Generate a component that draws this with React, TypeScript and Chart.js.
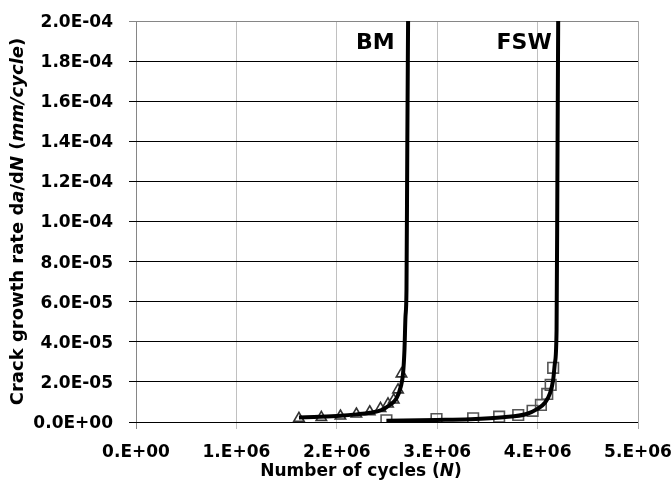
import React, { useEffect, useRef } from "react";
import { Chart, registerables } from "chart.js";
Chart.register(...registerables);

const FONT = '"DejaVu Sans", sans-serif';

// Measured markers
const bmPointsN = [1.623e6, 1.846e6, 2.036e6, 2.195e6, 2.328e6, 2.435e6, 2.51e6, 2.567e6, 2.61e6, 2.644e6];
const bmPointsRate = [1.85e-6, 2.3e-6, 3.0e-6, 4.0e-6, 5.1e-6, 6.8e-6, 9.0e-6, 1.1e-5, 1.6e-5, 2.4e-5];
const fswPointsN = [2.494e6, 2.993e6, 3.358e6, 3.617e6, 3.807e6, 3.95e6, 4.033e6, 4.096e6, 4.13e6, 4.155e6];
const fswPointsRate = [0.85e-6, 1.5e-6, 1.85e-6, 2.65e-6, 3.5e-6, 5.6e-6, 8.5e-6, 1.4e-5, 1.85e-5, 2.7e-5];

// Fitted curves
const bmCurveN = [1.623e6, 1.83e6, 2.036e6, 2.195e6, 2.328e6, 2.445e6, 2.527e6, 2.594e6, 2.637e6, 2.66e6, 2.674e6, 2.684e6, 2.694e6, 2.702e6, 2.71e6];
const bmCurveRate = [2.3e-6, 2.6e-6, 3.1e-6, 3.8e-6, 4.6e-6, 6.0e-6, 8.5e-6, 1.18e-5, 1.76e-5, 2.43e-5, 3.6e-5, 5.25e-5, 6.58e-5, 1.357e-4, 2.0e-4];
const fswCurveN = [2.494e6, 2.993e6, 3.325e6, 3.657e6, 3.89e6, 3.99e6, 4.073e6, 4.123e6, 4.155e6, 4.172e6, 4.189e6, 4.197e6, 4.205e6];
const fswCurveRate = [0.65e-6, 1.0e-6, 1.35e-6, 2.35e-6, 4.0e-6, 6.3e-6, 9.6e-6, 1.43e-5, 2.1e-5, 2.93e-5, 4.6e-5, 1.2e-4, 2.0e-4];

const xTickValues = [0, 1e6, 2e6, 3e6, 4e6, 5e6];
const xTickLabels = ["0.E+00", "1.E+06", "2.E+06", "3.E+06", "4.E+06", "5.E+06"];
const yTickValues = [0, 2e-5, 4e-5, 6e-5, 8e-5, 1e-4, 1.2e-4, 1.4e-4, 1.6e-4, 1.8e-4, 2e-4];
const yTickLabels = ["0.0E+00", "2.0E-05", "4.0E-05", "6.0E-05", "8.0E-05", "1.0E-04", "1.2E-04", "1.4E-04", "1.6E-04", "1.8E-04", "2.0E-04"];

const seriesLabels = ["BM", "FSW"];
const seriesLabelN = [2.577e6, 4.14e6];
const seriesLabelRate = [1.89e-4, 1.89e-4];

type Seg = { t: string; i: boolean };
const xTitle: Seg[] = [
  { t: "Number of cycles (", i: false },
  { t: "N", i: true },
  { t: ")", i: false },
];
const yTitle: Seg[] = [
  { t: "Crack growth rate d", i: false },
  { t: "a", i: true },
  { t: "/d", i: false },
  { t: "N", i: true },
  { t: " (", i: false },
  { t: "mm/cycle", i: true },
  { t: ")", i: false },
];

function drawSegs(ctx: CanvasRenderingContext2D, segs: Seg[], cx: number, cy: number, rot: number, size: number) {
  ctx.save();
  ctx.translate(cx, cy);
  ctx.rotate(rot);
  ctx.textBaseline = "middle";
  ctx.textAlign = "left";
  ctx.fillStyle = "#000";
  let total = 0;
  const widths = segs.map((s) => {
    ctx.font = `${s.i ? "italic " : ""}bold ${size}px ${FONT}`;
    const w = ctx.measureText(s.t).width;
    total += w;
    return w;
  });
  let x = -total / 2;
  segs.forEach((s, k) => {
    ctx.font = `${s.i ? "italic " : ""}bold ${size}px ${FONT}`;
    ctx.fillText(s.t, x, 0);
    x += widths[k];
  });
  ctx.restore();
}

const textPlugin = {
  id: "customText",
  afterDraw(chart: any) {
    const ctx = chart.ctx as CanvasRenderingContext2D;
    const xs = chart.scales.x;
    const ys = chart.scales.y;
    const ca = chart.chartArea;
    ctx.save();
    ctx.fillStyle = "#000";
    // tick labels
    ctx.font = `bold 17px ${FONT}`;
    ctx.textBaseline = "middle";
    ctx.textAlign = "center";
    xTickValues.forEach((v, i) => {
      ctx.fillText(xTickLabels[i], xs.getPixelForValue(v), ca.bottom + 31);
    });
    ctx.textAlign = "right";
    yTickValues.forEach((v, i) => {
      ctx.fillText(yTickLabels[i], ca.left - 23, ys.getPixelForValue(v) + 1.5);
    });
    // series labels
    ctx.font = `bold 22px ${FONT}`;
    seriesLabels.forEach((t, i) => {
      ctx.fillText(t, xs.getPixelForValue(seriesLabelN[i]), ys.getPixelForValue(seriesLabelRate[i]));
    });
    ctx.restore();
    drawSegs(ctx, xTitle, 361, 471.5, 0, 17);
    drawSegs(ctx, yTitle, 18, (ca.top + ca.bottom) / 2, -Math.PI / 2, 18);
  },
};

function toXY(n: number[], r: number[]) {
  return n.map((v, i) => ({ x: v, y: r[i] }));
}

export default function App() {
  const ref = useRef<HTMLCanvasElement>(null);
  useEffect(() => {
    if (!ref.current) return;
    const chart = new Chart(ref.current, {
      type: "scatter",
      data: {
        datasets: [
          {
            label: "BM fit",
            data: toXY(bmCurveN, bmCurveRate),
            showLine: true,
            pointRadius: 0,
            borderColor: "#000",
            borderWidth: 4,
            cubicInterpolationMode: "monotone",
          },
          {
            label: "FSW fit",
            data: toXY(fswCurveN, fswCurveRate),
            showLine: true,
            pointRadius: 0,
            borderColor: "#000",
            borderWidth: 4,
            cubicInterpolationMode: "monotone",
          },
          {
            label: "BM",
            data: toXY(bmPointsN, bmPointsRate),
            pointStyle: "triangle",
            pointRadius: 6,
            borderColor: "#333",
            borderWidth: 1.6,
            backgroundColor: "rgba(0,0,0,0)",
          },
          {
            label: "FSW",
            data: toXY(fswPointsN, fswPointsRate),
            pointStyle: "rect",
            pointRadius: 7.5,
            borderColor: "#555",
            borderWidth: 1.6,
            backgroundColor: "rgba(0,0,0,0)",
          },
        ],
      },
      options: {
        animation: false,
        responsive: false,
        layout: { padding: { left: 0, top: 21, right: 33, bottom: 0 } },
        plugins: { legend: { display: false }, tooltip: { enabled: false } },
        scales: {
          x: {
            type: "linear",
            min: 0,
            max: 5e6,
            afterBuildTicks: (s: any) => {
              s.ticks = xTickValues.map((v) => ({ value: v }));
            },
            afterFit: (s: any) => {
              s.height = 65;
              s.paddingLeft = 0;
              s.paddingRight = 0;
            },
            border: { display: false },
            grid: {
              color: (c: any) => (c.index === 0 ? "#868686" : c.index === 5 ? "#a6a6a6" : "#c0c0c0"),
              tickLength: 7,
              lineWidth: 1,
            },
            ticks: { display: false },
          },
          y: {
            type: "linear",
            min: 0,
            max: 2e-4,
            afterBuildTicks: (s: any) => {
              s.ticks = yTickValues.map((v) => ({ value: v }));
            },
            afterFit: (s: any) => {
              s.width = 136;
              s.paddingTop = 0;
              s.paddingBottom = 0;
            },
            border: { display: false },
            grid: {
              color: (c: any) => (c.index === 10 ? "#868686" : "#000"),
              tickLength: 7,
              lineWidth: 1,
            },
            ticks: { display: false },
          },
        },
      },
      plugins: [textPlugin],
    } as any);
    return () => chart.destroy();
  }, []);
  return (
    <div style={{ position: "fixed", left: 0, top: 0, width: 671, height: 487, background: "#fff" }}>
      <canvas ref={ref} width={671} height={487} style={{ display: "block", width: 671, height: 487 }} />
    </div>
  );
}
